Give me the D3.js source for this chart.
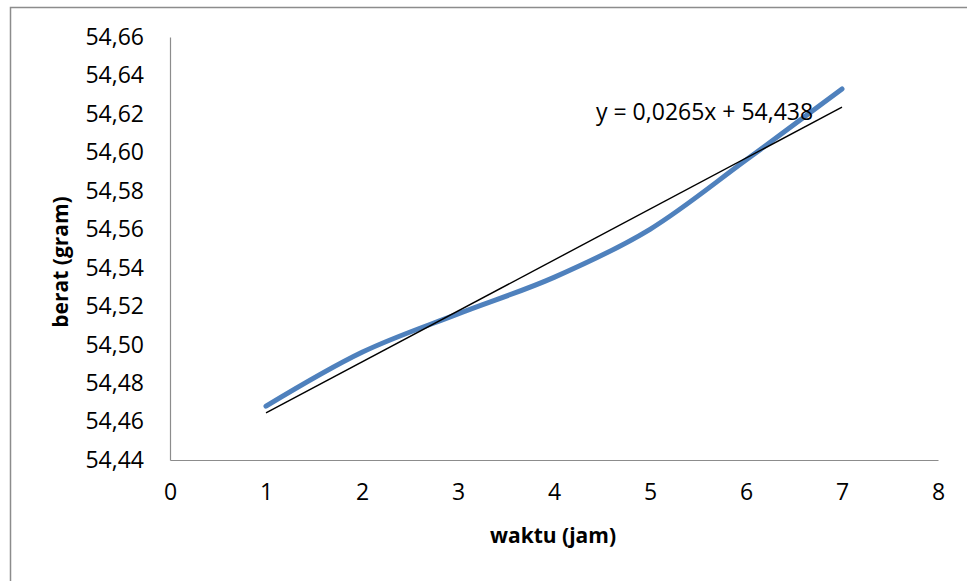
<!DOCTYPE html>
<html>
<head>
<meta charset="utf-8">
<script src="https://cdn.jsdelivr.net/npm/d3@7"></script>
<style>
  html, body { margin: 0; padding: 0; background: #fff; }
  svg { display: block; }
  text { font-family: "Open Sans", "Noto Sans", sans-serif; fill: #000; }
</style>
</head>
<body>
<svg id="chart" width="967" height="581"></svg>
<script>
// measured weight over time
const waktu = [1, 2, 3, 4, 5, 6, 7];
const berat = [54.468, 54.496, 54.516, 54.535, 54.560, 54.596, 54.633];

// linear trendline coefficients
const slope = 0.0265;
const intercept = 54.438;
const trendLabel = "y = 0,0265x + 54,438";

const xTicks = [0, 1, 2, 3, 4, 5, 6, 7, 8];
const yTicks = [54.44, 54.46, 54.48, 54.50, 54.52, 54.54, 54.56, 54.58, 54.60, 54.62, 54.64, 54.66];

const xTitle = "waktu (jam)";
const yTitle = "berat (gram)";

const svg = d3.select("#chart");
const W = 967, H = 581;

// outer chart frame (runs past the right and bottom edges)
svg.append("rect")
  .attr("x", 10.5).attr("y", 7.5)
  .attr("width", W + 20).attr("height", H + 20)
  .attr("fill", "none").attr("stroke", "#8c8c8c").attr("stroke-width", 1.5);

const plot = { left: 170, right: 938, top: 37, bottom: 460 };

const x = d3.scaleLinear().domain([0, 8]).range([plot.left, plot.right]);
const y = d3.scaleLinear().domain([54.44, 54.66]).range([plot.bottom, plot.top]);

const fmtY = v => d3.format(".2f")(v).replace(".", ",");

// y axis
const yAxis = svg.append("g")
  .attr("transform", `translate(${plot.left},0)`)
  .call(d3.axisLeft(y).tickValues(yTicks).tickSize(0).tickPadding(26).tickFormat(fmtY));
yAxis.select(".domain").attr("stroke", "#8c8c8c").attr("stroke-width", 1.2);
yAxis.selectAll("text")
  .attr("font-size", 23).attr("font-family", "'Open Sans', sans-serif").attr("fill", "#000");

// x axis
const xAxis = svg.append("g")
  .attr("transform", `translate(0,${plot.bottom})`)
  .call(d3.axisBottom(x).tickValues(xTicks).tickSize(0).tickPadding(24).tickFormat(d3.format("d")));
xAxis.select(".domain").attr("stroke", "#8c8c8c").attr("stroke-width", 1.2);
xAxis.selectAll("text")
  .attr("font-size", 23).attr("font-family", "'Open Sans', sans-serif").attr("fill", "#000");

// data series, smoothed
const line = d3.line()
  .x((d, i) => x(waktu[i]))
  .y(d => y(d))
  .curve(d3.curveCatmullRom.alpha(0));

svg.append("path")
  .datum(berat)
  .attr("d", line)
  .attr("fill", "none")
  .attr("stroke", "#4f81bd")
  .attr("stroke-width", 5)
  .attr("stroke-linecap", "round");

// linear trendline across the data range
const x0 = d3.min(waktu), x1 = d3.max(waktu);
svg.append("line")
  .attr("x1", x(x0)).attr("y1", y(slope * x0 + intercept))
  .attr("x2", x(x1)).attr("y2", y(slope * x1 + intercept))
  .attr("stroke", "#000").attr("stroke-width", 1.4);

svg.append("text")
  .attr("x", 596).attr("y", 120)
  .attr("font-size", 23)
  .text(trendLabel);

// axis titles
svg.append("text")
  .attr("x", 553).attr("y", 543)
  .attr("text-anchor", "middle")
  .attr("font-size", 21).attr("font-weight", "bold")
  .text(xTitle);

svg.append("text")
  .attr("transform", "translate(68,262) rotate(-90)")
  .attr("text-anchor", "middle")
  .attr("font-size", 21).attr("font-weight", "bold")
  .text(yTitle);
</script>
</body>
</html>
